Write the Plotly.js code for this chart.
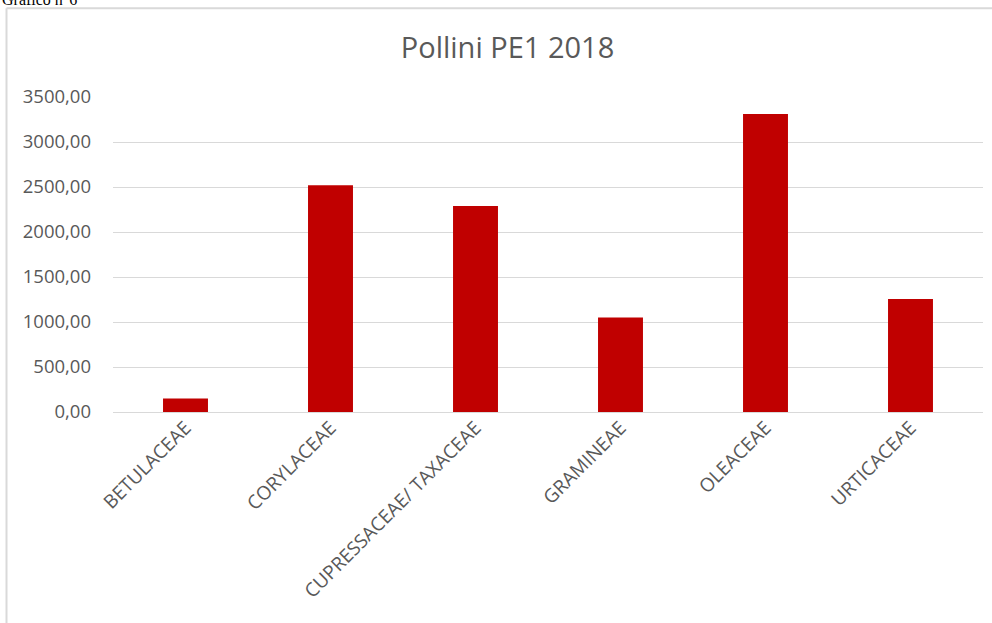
<!DOCTYPE html>
<html>
<head>
<meta charset="utf-8">
<script src="https://cdn.plot.ly/plotly-3.0.1.min.js"></script>
<style>
  html, body { margin: 0; padding: 0; background: #ffffff; }
  #chart { width: 992px; height: 623px; }
</style>
</head>
<body>
<div id="chart"></div>
<script>
const categories = ["BETULACEAE", "CORYLACEAE", "CUPRESSACEAE/ TAXACEAE", "GRAMINEAE", "OLEACEAE", "URTICACEAE"];
const values = [150, 2520, 2290, 1050, 3310, 1255];
const yTicks = [0, 500, 1000, 1500, 2000, 2500, 3000, 3500];
const chartTitle = "Pollini PE1 2018";
const captionText = "Grafico n°6";

const trace = {
  type: "bar",
  x: categories,
  y: values,
  marker: { color: "#c00000", line: { width: 0 } },
  hoverinfo: "x+y"
};

const layout = {
  width: 992,
  height: 623,
  paper_bgcolor: "#ffffff",
  plot_bgcolor: "#ffffff",
  separators: ",.",
  margin: { l: 113, r: 9, t: 97, b: 211, pad: 0 },
  bargap: 0.69,
  showlegend: false,
  title: {
    text: chartTitle,
    font: { family: "Open Sans", size: 29, color: "#595959" },
    x: 0.5116, xref: "container", xanchor: "center",
    y: 0.923, yref: "container", yanchor: "middle"
  },
  xaxis: {
    type: "category",
    tickangle: -45,
    tickfont: { family: "Open Sans", size: 19, color: "#595959" },
    showgrid: false,
    showline: false,
    ticks: "",
    zeroline: false,
    fixedrange: true
  },
  yaxis: {
    range: [0, 3500],
    tickvals: yTicks,
    tickformat: ".2f",
    tickfont: { family: "Open Sans", size: 18.5, color: "#595959" },
    showgrid: true,
    gridcolor: "#d9d9d9",
    gridwidth: 1,
    zeroline: true,
    zerolinecolor: "#d9d9d9",
    zerolinewidth: 1,
    showline: false,
    ticks: "",
    ticklabelstandoff: 21,
    fixedrange: true
  },
  shapes: [
    {
      type: "line", xref: "paper", yref: "paper",
      x0: -0.1224, x1: 1.5, y0: 1.2818, y1: 1.2818,
      line: { color: "#d9d9d9", width: 2 },
      layer: "below"
    },
    {
      type: "line", xref: "paper", yref: "paper",
      x0: -0.1224, x1: -0.1224, y0: -1.2, y1: 1.2818,
      line: { color: "#d9d9d9", width: 2 },
      layer: "below"
    }
  ],
  annotations: [
    {
      text: captionText,
      xref: "paper", yref: "paper",
      x: -0.1299, y: 1.277,
      xanchor: "left", yanchor: "bottom",
      showarrow: false,
      font: { family: "Liberation Serif", size: 16, color: "#000000" }
    }
  ]
};

Plotly.newPlot("chart", [trace], layout, { displayModeBar: false, staticPlot: true });
</script>
</body>
</html>
